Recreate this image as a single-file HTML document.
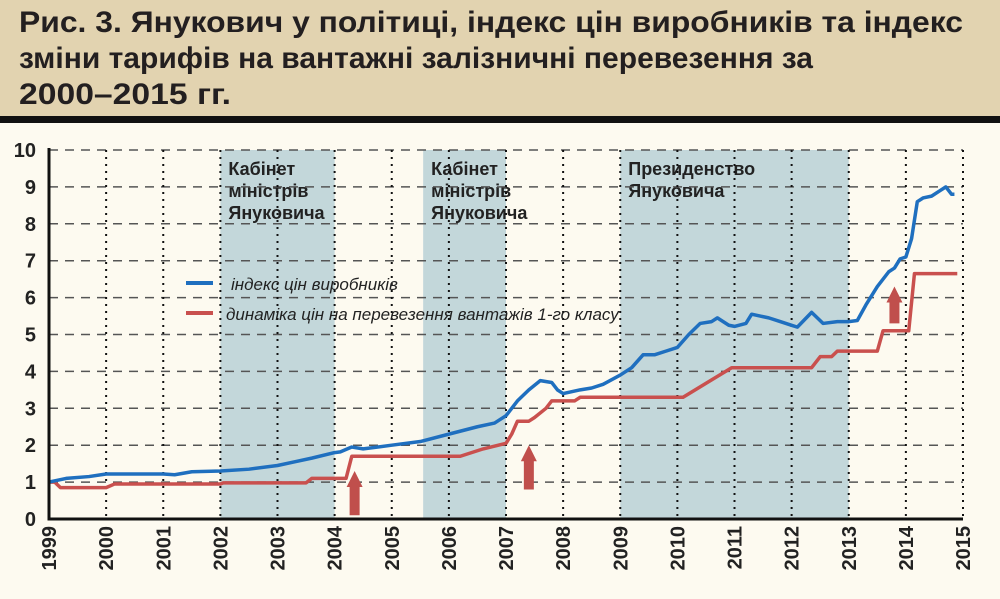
<!DOCTYPE html>
<html><head><meta charset="utf-8"><style>
body{margin:0;background:#fdfaf0;}
svg{display:block;font-family:"Liberation Sans",sans-serif;}
</style></head><body>
<svg id="chart" width="1000" height="599" viewBox="0 0 1000 599" xmlns="http://www.w3.org/2000/svg">
<rect x="0" y="0" width="1000" height="599" fill="#fdfaf0"/>
<rect x="0" y="0" width="1000" height="116" fill="#e2d3b0"/>
<rect x="0" y="116" width="1000" height="7" fill="#111"/>
<g font-weight="bold" font-size="30" fill="#231f20">
<text x="19" y="32" textLength="944" lengthAdjust="spacingAndGlyphs">Рис. 3. Янукович у політиці, індекс цін виробників та індекс</text>
<text x="19" y="68" textLength="794" lengthAdjust="spacingAndGlyphs">зміни тарифів на вантажні залізничні перевезення за</text>
<text x="19" y="104" textLength="212" lengthAdjust="spacingAndGlyphs">2000–2015 гг.</text>
</g>
<g id="shades"></g>
<g id="grid"></g>
<g id="series"></g>
<g id="axes"></g>
<g>
<line x1="186" y1="283" x2="213" y2="283" stroke="#1f6fbf" stroke-width="4"/>
<text x="231" y="290" font-size="17" font-style="italic" fill="#222">індекс цін виробників</text>
<line x1="186" y1="313" x2="213" y2="313" stroke="#c9504e" stroke-width="4"/>
<text x="226" y="320" font-size="17" font-style="italic" fill="#222">динаміка цін на перевезення вантажів 1-го класу</text>
</g>
</svg>
<script>
const yearTicks=[1999,2000,2001,2002,2003,2004,2005,2006,2007,2008,2009,2010,2011,2012,2013,2014,2015];
const valueTicks=[0,1,2,3,4,5,6,7,8,9,10];
const periodStarts=[2002,2005.55,2009];
const periodEnds=[2004,2007,2013];
const periodLabels=[["Кабінет","міністрів","Януковича"],["Кабінет","міністрів","Януковича"],["Президенство","Януковича"]];
const blueX=[1999,1999.3,1999.7,2000,2000.5,2001,2001.2,2001.5,2002,2002.5,2003,2003.3,2003.6,2004,2004.1,2004.3,2004.5,2005,2005.5,2006,2006.5,2006.8,2007,2007.2,2007.4,2007.6,2007.8,2007.9,2008,2008.3,2008.5,2008.7,2009,2009.2,2009.4,2009.6,2009.8,2010,2010.2,2010.4,2010.6,2010.7,2010.9,2011,2011.2,2011.3,2011.45,2011.6,2011.8,2012,2012.1,2012.35,2012.55,2012.8,2013,2013.15,2013.3,2013.5,2013.7,2013.8,2013.9,2014,2014.1,2014.2,2014.3,2014.45,2014.6,2014.7,2014.8,2014.85];
const blueY=[1.0,1.1,1.15,1.22,1.22,1.22,1.2,1.28,1.3,1.35,1.45,1.55,1.65,1.8,1.82,1.95,1.9,2.0,2.1,2.3,2.5,2.6,2.8,3.2,3.5,3.75,3.7,3.5,3.4,3.5,3.55,3.65,3.9,4.1,4.45,4.45,4.55,4.65,5.0,5.3,5.35,5.45,5.25,5.22,5.3,5.55,5.5,5.45,5.35,5.25,5.2,5.6,5.3,5.35,5.35,5.38,5.8,6.3,6.7,6.8,7.05,7.1,7.6,8.6,8.7,8.75,8.9,9.0,8.8,8.8];
const redX=[1999,1999.1,1999.2,2000,2000.15,2002,2002.05,2003.5,2003.6,2004.2,2004.3,2006.2,2006.6,2007,2007.1,2007.2,2007.4,2007.5,2007.7,2007.8,2008.2,2008.3,2010.1,2010.95,2012.35,2012.5,2012.7,2012.8,2013.5,2013.6,2014.05,2014.15,2014.9];
const redY=[1.0,1.0,0.85,0.85,0.95,0.95,0.98,0.98,1.1,1.1,1.7,1.7,1.9,2.05,2.3,2.65,2.65,2.75,3.0,3.2,3.2,3.3,3.3,4.1,4.1,4.4,4.4,4.55,4.55,5.1,5.1,6.65,6.65];
const arrowX=[2004.35,2007.4,2013.8];
const arrowBase=[0.1,0.8,5.3];
const arrowTip=[1.3,2.0,6.3];

const NS="http://www.w3.org/2000/svg";
const X0=49,X1=963,Y0=519,Y1=150;
const xs=v=>X0+(v-1999)/(2015-1999)*(X1-X0);
const ys=v=>Y0-v/10*(Y0-Y1);
function mk(tag,attrs,parent){const e=document.createElementNS(NS,tag);for(const k in attrs)e.setAttribute(k,attrs[k]);parent.appendChild(e);return e;}
const shades=document.getElementById('shades'),grid=document.getElementById('grid'),series=document.getElementById('series'),axes=document.getElementById('axes');
periodStarts.forEach((s,i)=>{
 const r=mk('rect',{x:xs(s),y:Y1,width:xs(periodEnds[i])-xs(s),height:Y0-Y1,fill:'#c3d7da'},shades);
 
 
 periodLabels[i].forEach((t,j)=>{
  const tx=mk('text',{x:xs(s)+8,y:Y1+25+j*22,'font-size':18,'font-weight':'bold',fill:'#222'},shades);
  tx.textContent=t;
  
  
 });
});
valueTicks.forEach(v=>{
 if(v>0){const l=mk('line',{x1:X0,x2:X1,y1:ys(v),y2:ys(v),stroke:'#555','stroke-width':1.5,'stroke-dasharray':'9,7'},grid);
 
 }
 const t=mk('text',{x:36,y:ys(v)+7,'font-size':20,'font-weight':'bold','text-anchor':'end',fill:'#222'},axes);
 t.textContent=v;
 
 
});
yearTicks.forEach(v=>{
 if(v>1999){const l=mk('line',{x1:xs(v),x2:xs(v),y1:Y1,y2:Y0,stroke:'#111','stroke-width':2,'stroke-dasharray':'2,5'},grid);
 
 }
 const t=mk('text',{x:0,y:0,'font-size':20,'font-weight':'bold','text-anchor':'end',fill:'#222',transform:`translate(${xs(v)+7},${Y0+7}) rotate(-90)`},axes);
 t.textContent=v;
 
 
});
arrowX.forEach((a,i)=>{
 const x=xs(a),yb=ys(arrowBase[i]),yt=ys(arrowTip[i]);
 const p=mk('path',{d:`M${x-5},${yb} L${x+5},${yb} L${x+5},${yt+16} L${x+8},${yt+16} L${x},${yt} L${x-8},${yt+16} L${x-5},${yt+16} Z`,fill:'#c04f4c'},series);
 
 
});
const red=mk('polyline',{points:redX.map((x,i)=>xs(x)+','+ys(redY[i])).join(' '),fill:'none',stroke:'#c9504e','stroke-width':3.5,'stroke-linejoin':'round'},series);


const blue=mk('polyline',{points:blueX.map((x,i)=>xs(x)+','+ys(blueY[i])).join(' '),fill:'none',stroke:'#1f6fbf','stroke-width':3.5,'stroke-linejoin':'round'},series);


const ax=mk('path',{d:`M${X0},${Y1-2} L${X0},${Y0} L${X1},${Y0}`,fill:'none',stroke:'#111','stroke-width':3},axes);


</script>
</body></html>
